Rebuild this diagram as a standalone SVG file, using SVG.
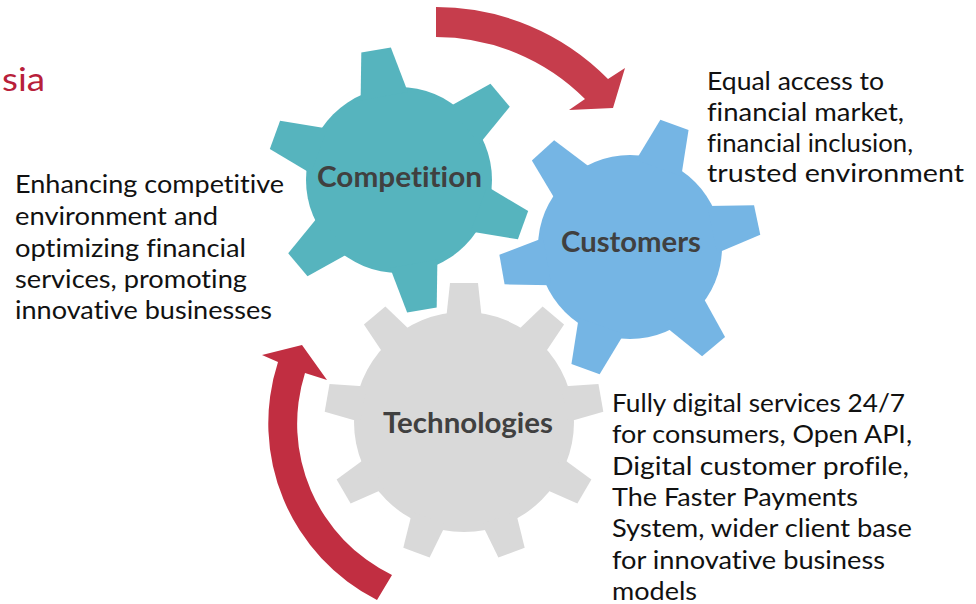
<svg xmlns="http://www.w3.org/2000/svg" xmlns:xlink="http://www.w3.org/1999/xlink" width="976" height="604" viewBox="0 0 976 604">
  <style>
    text { font-variant-ligatures: none; font-feature-settings: "liga" 0, "clig" 0; }
    .body { font-family: Lato, "Open Sans", sans-serif; font-size: 25px; fill: #111111; }
    .label { font-family: Lato, "Open Sans", sans-serif; font-size: 28px; font-weight: bold; fill: #404040; }
    .title { font-family: Lato, "Open Sans", sans-serif; font-size: 32px; fill: #B8203A; }
    .teal { fill: #56B4BE; }
    .blue { fill: #75B5E4; }
    .grey { fill: #D9D9D9; }
  </style>
  <defs>
    <polygon id="toothA" points="-24,-85 -15,-132 15,-132 24,-85"/>
    <polygon id="toothB" points="-24,-84 -15,-130 15,-130 24,-84"/>
    <polygon id="toothC" points="-18,-102 -14,-139 14,-139 18,-102"/>
  </defs>
  <rect width="976" height="604" fill="#FFFFFF"/>

  <text class="title" x="2" y="91" textLength="43" lengthAdjust="spacingAndGlyphs">sia</text>

  <g id="node-technologies" class="grey">
    <circle cx="464" cy="422" r="110"/>
    <use xlink:href="#toothC" href="#toothC" transform="translate(464 422) rotate(0)"/>
    <use xlink:href="#toothC" href="#toothC" transform="translate(464 422) rotate(40)"/>
    <use xlink:href="#toothC" href="#toothC" transform="translate(464 422) rotate(80)"/>
    <use xlink:href="#toothC" href="#toothC" transform="translate(464 422) rotate(120)"/>
    <use xlink:href="#toothC" href="#toothC" transform="translate(464 422) rotate(160)"/>
    <use xlink:href="#toothC" href="#toothC" transform="translate(464 422) rotate(200)"/>
    <use xlink:href="#toothC" href="#toothC" transform="translate(464 422) rotate(240)"/>
    <use xlink:href="#toothC" href="#toothC" transform="translate(464 422) rotate(280)"/>
    <use xlink:href="#toothC" href="#toothC" transform="translate(464 422) rotate(320)"/>
    <text class="label" x="383" y="433" textLength="170" lengthAdjust="spacingAndGlyphs">Technologies</text>
  </g>

  <g id="node-customers" class="blue">
    <circle cx="630" cy="247" r="92"/>
    <use xlink:href="#toothB" href="#toothB" transform="translate(630 247) rotate(78)"/>
    <use xlink:href="#toothB" href="#toothB" transform="translate(630 247) rotate(140)"/>
    <use xlink:href="#toothB" href="#toothB" transform="translate(630 247) rotate(200)"/>
    <use xlink:href="#toothB" href="#toothB" transform="translate(630 247) rotate(260)"/>
    <use xlink:href="#toothB" href="#toothB" transform="translate(630 247) rotate(318)"/>
    <use xlink:href="#toothB" href="#toothB" transform="translate(630 247) rotate(20)"/>
    <text class="label" x="561" y="252" textLength="140" lengthAdjust="spacingAndGlyphs">Customers</text>
  </g>

  <g id="node-competition" class="teal">
    <circle cx="399" cy="180" r="93"/>
    <use xlink:href="#toothA" href="#toothA" transform="translate(399 180) rotate(-10)"/>
    <use xlink:href="#toothA" href="#toothA" transform="translate(399 180) rotate(50)"/>
    <use xlink:href="#toothA" href="#toothA" transform="translate(399 180) rotate(110)"/>
    <use xlink:href="#toothA" href="#toothA" transform="translate(399 180) rotate(170)"/>
    <use xlink:href="#toothA" href="#toothA" transform="translate(399 180) rotate(230)"/>
    <use xlink:href="#toothA" href="#toothA" transform="translate(399 180) rotate(290)"/>
    <text class="label" x="317" y="187" textLength="165" lengthAdjust="spacingAndGlyphs">Competition</text>
  </g>

  <g id="connectors">
    <path id="arrow-top" fill="#C63D4C" d="M 436,7 A 241 241 0 0 1 608,79 L 625,68 L 613,108 L 569,110 L 585,99 A 211 211 0 0 0 436,37 Z"/>
    <path id="arrow-left" fill="#C12E41" d="M 377,600 A 198 198 0 0 1 278,362 L 262,355 L 302,345 L 327,380 L 305,373 A 168 168 0 0 0 392,575 Z"/>
  </g>

  <g id="text-competition" class="body">
    <text x="15" y="193" textLength="269" lengthAdjust="spacingAndGlyphs">Enhancing competitive</text>
    <text x="15" y="225" textLength="203" lengthAdjust="spacingAndGlyphs">environment and</text>
    <text x="15" y="257" textLength="231" lengthAdjust="spacingAndGlyphs">optimizing financial</text>
    <text x="15" y="288" textLength="232" lengthAdjust="spacingAndGlyphs">services, promoting</text>
    <text x="15" y="319" textLength="257" lengthAdjust="spacingAndGlyphs">innovative businesses</text>
  </g>

  <g id="text-customers" class="body">
    <text x="707" y="90" textLength="177" lengthAdjust="spacingAndGlyphs">Equal access to</text>
    <text x="707" y="121" textLength="197" lengthAdjust="spacingAndGlyphs">financial market,</text>
    <text x="707" y="152" textLength="206" lengthAdjust="spacingAndGlyphs">financial inclusion,</text>
    <text x="707" y="182" textLength="257" lengthAdjust="spacingAndGlyphs">trusted environment</text>
  </g>

  <g id="text-technologies" class="body">
    <text x="612" y="412" textLength="293" lengthAdjust="spacingAndGlyphs">Fully digital services 24/7</text>
    <text x="612" y="443" textLength="300" lengthAdjust="spacingAndGlyphs">for consumers, Open API,</text>
    <text x="612" y="475" textLength="297" lengthAdjust="spacingAndGlyphs">Digital customer profile,</text>
    <text x="612" y="506" textLength="246" lengthAdjust="spacingAndGlyphs">The Faster Payments</text>
    <text x="612" y="537" textLength="300" lengthAdjust="spacingAndGlyphs">System, wider client base</text>
    <text x="612" y="569" textLength="273" lengthAdjust="spacingAndGlyphs">for innovative business</text>
    <text x="612" y="600" textLength="85" lengthAdjust="spacingAndGlyphs">models</text>
  </g>
</svg>
